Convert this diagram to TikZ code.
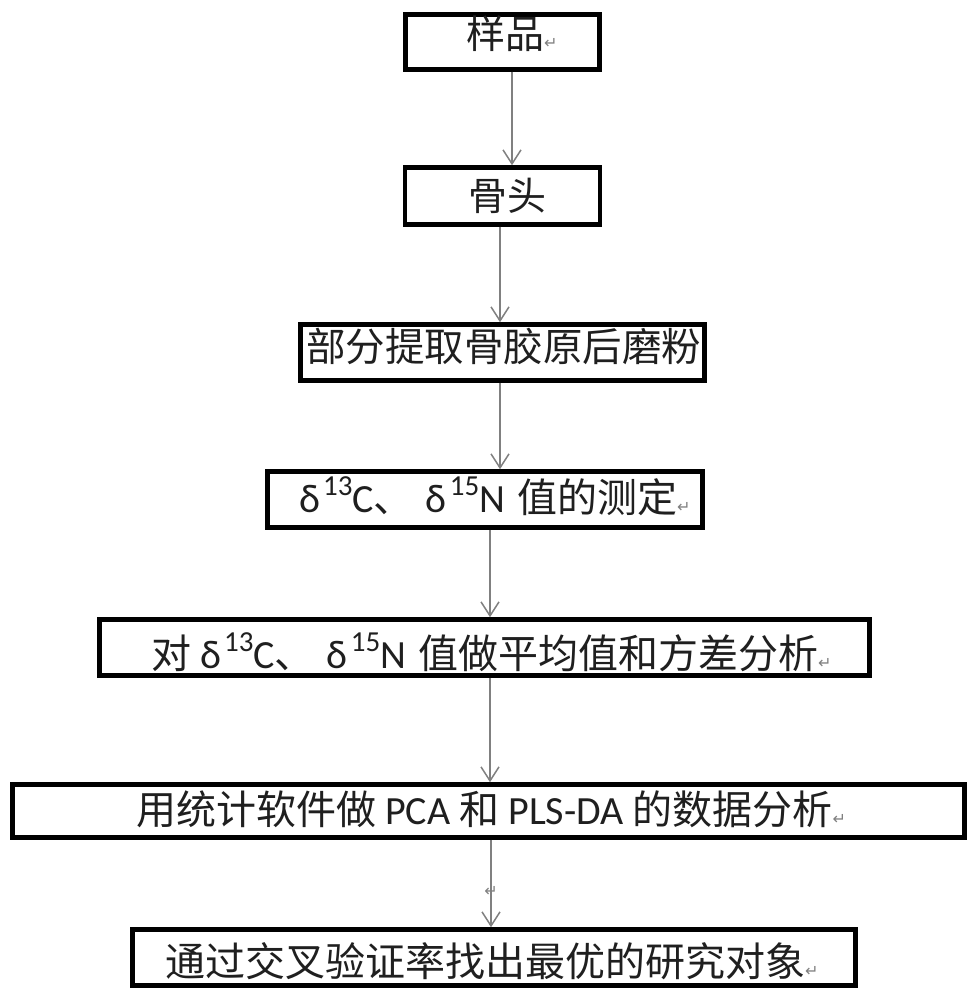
\documentclass[tikz,border=0pt]{standalone}
\usepackage{fontspec}
\setmainfont{Carlito}
\newfontfamily\cjk{Noto Sans CJK SC}
\newfontfamily\symf{DejaVu Sans}
\usetikzlibrary{arrows.meta}
\newcommand\retmark{{\symf\fontsize{16}{16}\selectfont\color{gray}↵}}
\newcommand\upnum[1]{\raisebox{0.42em}{\rmfamily\fontsize{29}{29}\selectfont #1}}
\begin{document}
\begin{tikzpicture}[x=1pt,y=-1pt,
  box/.style={draw=black, line width=4.5pt, inner sep=0pt},
  arr/.style={draw=black!50, line width=1.5pt, -{Straight Barb[length=14pt,width=18pt,line width=1.5pt]}},
  txt/.style={anchor=base west, inner sep=0pt, text=black!88},
  fs/.style={font=\cjk\fontsize{#1}{#1}\selectfont}
]
\useasboundingbox (0,0) rectangle (978,1000);
\fill[white] (0,0) rectangle (978,1000);

\node[box, minimum width=194pt, minimum height=55pt] (b1) at (502.5,42) {};
\node[box, minimum width=195pt, minimum height=57pt] (b2) at (502.5,196) {};
\node[box, minimum width=404pt, minimum height=56pt] (b3) at (502.5,352.5) {};
\node[box, minimum width=435pt, minimum height=56pt] (b4) at (485,499.5) {};
\node[box, minimum width=770pt, minimum height=56pt] (b5) at (484.5,647.5) {};
\node[box, minimum width=952pt, minimum height=53pt] (b6) at (488.5,811) {};
\node[box, minimum width=723pt, minimum height=56pt] (b7) at (494,957.5) {};

\node[txt, fs=39] (t1) at (466,49) {样品\retmark};
\node[txt, fs=39] (t2) at (468,211) {骨头};
\node[txt, fs=39.5] (t3) at (306,361) {部分提取骨胶原后磨粉};
\node[txt, fs=40] (t4) at (299,512) {{\rmfamily δ\hspace{3pt}}\upnum{13}{\rmfamily C}、\hspace{12pt}{\rmfamily δ\hspace{3pt}}\upnum{15}{\rmfamily N\hspace{12pt}}值的测定\retmark};
\node[txt, fs=40] (t5) at (151,668) {对{\rmfamily\ δ\hspace{3pt}}\upnum{13}{\rmfamily C}、\hspace{12pt}{\rmfamily δ\hspace{3pt}}\upnum{15}{\rmfamily N\hspace{12pt}}值做平均值和方差分析\retmark};
\node[txt, fs=40] (t6) at (136,824) {用统计软件做{\rmfamily\ PCA }和{\rmfamily\ PLS-DA }的数据分析\retmark};
\node[txt, fs=40] (t7) at (165,976) {通过交叉验证率找出最优的研究对象\retmark};

\draw[arr] ([xshift=9.5]b1.south) -- ([xshift=9.5]b2.north);
\draw[arr] ([xshift=-2.5]b2.south) -- ([xshift=-2.5]b3.north);
\draw[arr] ([xshift=-2.5]b3.south) -- ([xshift=15]b4.north);
\draw[arr] ([xshift=5]b4.south) -- ([xshift=5.5]b5.north);
\draw[arr] ([xshift=5.5]b5.south) -- ([xshift=1.5]b6.north);
\draw[arr] ([xshift=2.5]b6.south) -- ([xshift=-3]b7.north);
\node[inner sep=0pt, font=\symf\fontsize{16}{16}\selectfont, text=gray] (pm) at (491,891) {↵};
\end{tikzpicture}
\end{document}
